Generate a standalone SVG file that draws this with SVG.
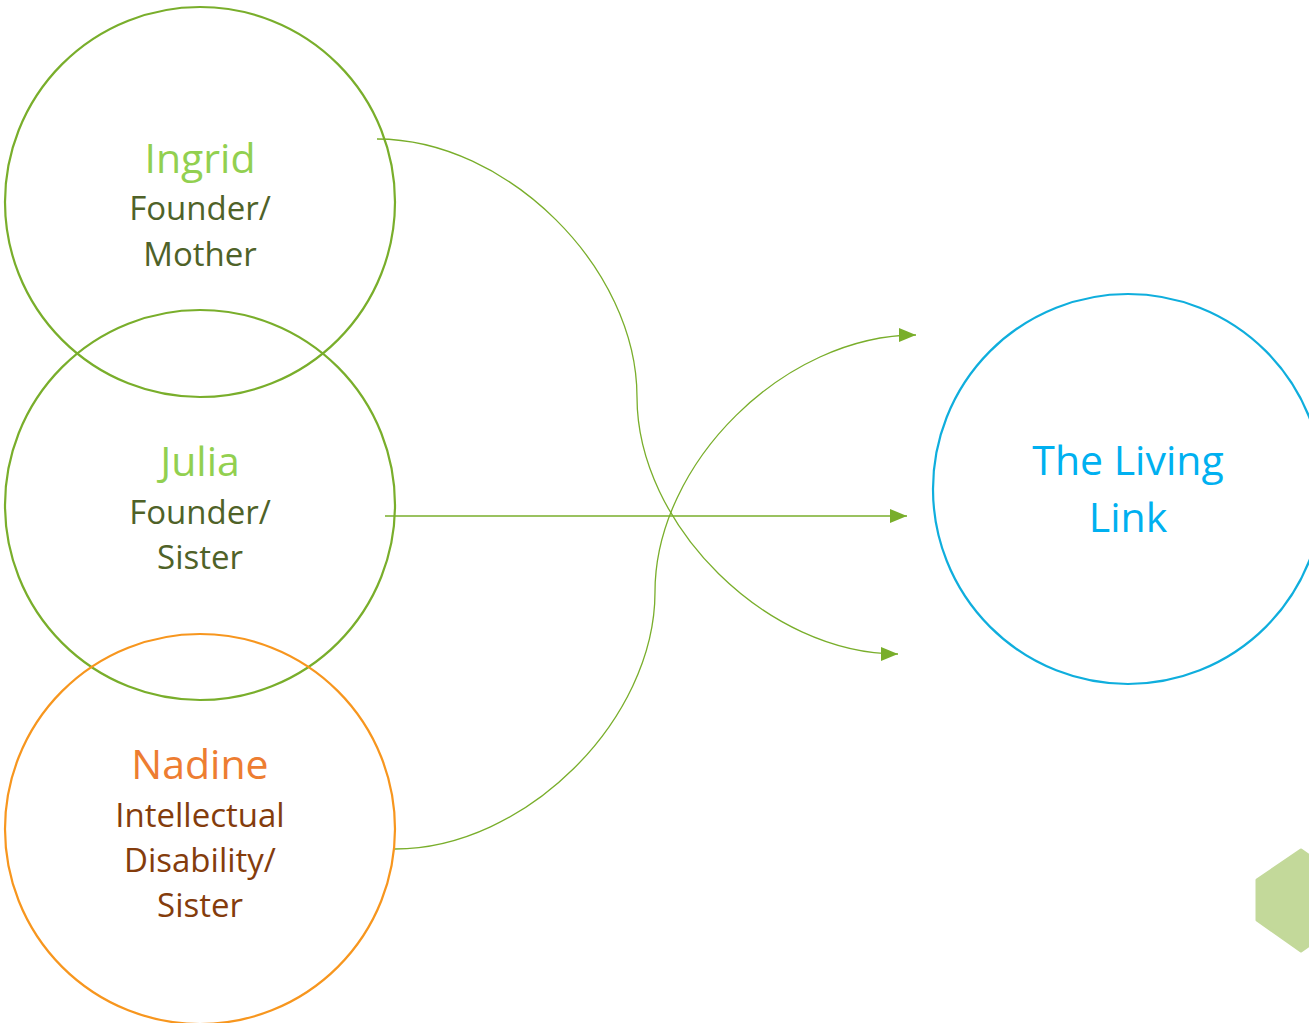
<svg xmlns="http://www.w3.org/2000/svg" width="1309" height="1023" viewBox="0 0 1309 1023">
<style>
.c{fill:none;stroke-width:2.2}
.g{stroke:#79AE2B}
.o{stroke:#F7961E}
.b{stroke:#0FAEDD}
.t{font-family:"Open Sans","Liberation Sans",sans-serif;text-anchor:middle}
.n{font-size:41px}
.s{font-size:33px}
.ln{fill:none;stroke:#79AE2B;stroke-width:1.3}
</style>
<defs>
<marker id="ah" markerUnits="userSpaceOnUse" markerWidth="18" markerHeight="14" refX="17" refY="7" orient="auto">
<path d="M0,0 L17,7 L0,14 Z" fill="#79AE2B"/>
</marker>
</defs>
<rect width="1309" height="1023" fill="#fff"/>
<polygon points="1257,880 1301,850 1345,880 1345,920 1301,951 1257,920" fill="#C3D99A" stroke="#C3D99A" stroke-width="3" stroke-linejoin="round"/>
<g id="connectors">
<path class="ln" d="M377,139 C507,139 637,268 637,397 C637,525 767,654 898,654" marker-end="url(#ah)"/>
<path class="ln" d="M395,849 C525,849 655,720 655,592 C655,463 785,335 916,335" marker-end="url(#ah)"/>
<path class="ln" d="M385,516 L907,516" marker-end="url(#ah)"/>
</g>
<g id="ingrid">
<circle class="c g" cx="200" cy="202" r="195"/>
<text class="t n" x="200" y="173" fill="#92D050">Ingrid</text>
<text class="t s" x="200" y="220" fill="#4F6228">Founder/</text>
<text class="t s" x="200" y="266" fill="#4F6228">Mother</text>
</g>
<g id="julia">
<circle class="c g" cx="200" cy="505" r="195"/>
<text class="t n" x="200" y="476" fill="#92D050">Julia</text>
<text class="t s" x="200" y="524" fill="#4F6228">Founder/</text>
<text class="t s" x="200" y="569" fill="#4F6228">Sister</text>
</g>
<g id="nadine">
<circle class="c o" cx="200" cy="829" r="195"/>
<text class="t n" x="200" y="779" fill="#ED7D31">Nadine</text>
<text class="t s" x="200" y="827" fill="#843C0C">Intellectual</text>
<text class="t s" x="200" y="872" fill="#843C0C">Disability/</text>
<text class="t s" x="200" y="917" fill="#843C0C">Sister</text>
</g>
<g id="living-link">
<circle class="c b" cx="1128" cy="489" r="195"/>
<text class="t n" x="1128" y="475" fill="#00B0F0">The Living</text>
<text class="t n" x="1128" y="532" fill="#00B0F0">Link</text>
</g>
</svg>
